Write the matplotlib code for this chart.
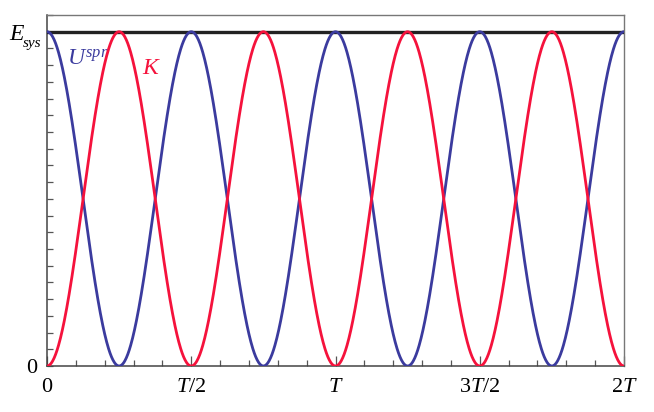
import numpy as np
import matplotlib
matplotlib.use("Agg")
from matplotlib import pyplot as plt
from matplotlib.ticker import MultipleLocator

# chart parameters
T = 1.0            # oscillation period
E_sys = 1.0        # total energy of the system
n_periods = 2      # x axis runs from 0 to 2T
x_ticks = [0, T / 2, T, 3 * T / 2, 2 * T]
x_labels = ["0", "$T$/2", "$T$", "3$T$/2", "2$T$"]
y_ticks = [0, E_sys]
y_labels = ["0", ""]   # E_sys label is drawn by hand below

t = np.linspace(0, n_periods * T, 1201)
U_spr = E_sys * np.cos(2 * np.pi * t / T) ** 2
K = E_sys - U_spr

plt.rcParams["font.family"] = ["Liberation Serif", "DejaVu Serif"]
plt.rcParams["mathtext.fontset"] = "custom"
plt.rcParams["mathtext.it"] = "Liberation Serif:italic"
plt.rcParams["mathtext.rm"] = "Liberation Serif"

blue = "#3b3b9e"
red = "#f5123c"

W, H = 654, 412
fig = plt.figure(figsize=(W / 100, H / 100), dpi=100)
ax = fig.add_axes([47 / W, 1 - 366 / H, 577 / W, 351 / H])

ax.axhline(E_sys, color="#222222", lw=2.4, zorder=3)
ax.plot(t, U_spr, color=blue, lw=2.0, zorder=4)
ax.plot(t, K, color=red, lw=2.0, zorder=4)

ax.set_xlim(0, n_periods * T)
ax.set_ylim(0, 1.05 * E_sys)

ax.set_xticks(x_ticks)
ax.set_xticklabels(x_labels, fontsize=16)
ax.xaxis.set_minor_locator(MultipleLocator(T / 10))
ax.set_yticks(y_ticks)
ax.set_yticklabels(y_labels, fontsize=16)
ax.yaxis.set_minor_locator(MultipleLocator(E_sys / 20))

ax.tick_params(which="both", direction="in", color="#555555", width=0.9,
               top=False, right=False)
ax.tick_params(which="major", length=7, pad=9)
ax.tick_params(which="minor", length=4)
ax.tick_params(axis="y", which="major", length=4, pad=7)

for side in ["left", "bottom"]:
    ax.spines[side].set_color("#444444")
    ax.spines[side].set_linewidth(1.1)
for side in ["top", "right"]:
    ax.spines[side].set_color("#777777")
    ax.spines[side].set_linewidth(1.0)

# E_sys tick label, subscript sits low and tucked under the E
fig.text(9 / W, 1 - 40.5 / H, "E", fontsize=17, style="italic",
         va="baseline", ha="left")
fig.text(23 / W, 1 - 47.5 / H, "sys", fontsize=11, style="italic",
         va="baseline", ha="left")

ax.text(0.034, 0.858, "$U^{spr}$", color=blue, fontsize=17,
        transform=ax.transAxes, va="baseline")
ax.text(0.165, 0.832, "$K$", color=red, fontsize=17,
        transform=ax.transAxes, va="baseline")

fig.savefig("out.png", dpi=100)
